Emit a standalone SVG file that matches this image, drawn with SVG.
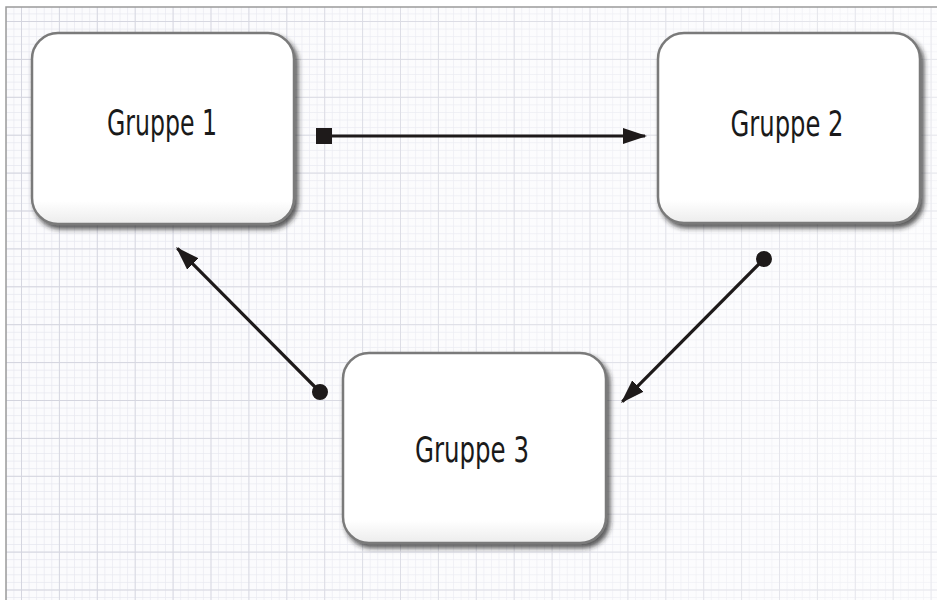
<svg xmlns="http://www.w3.org/2000/svg" width="937" height="600" viewBox="0 0 937 600">
<defs>
<style>
.node rect{fill:url(#boxfill);stroke:#7a7a7a;stroke-width:2.5;filter:url(#shadow)}
.node text{font-family:"Liberation Sans Narrow","DejaVu Sans Condensed","Liberation Sans",sans-serif;font-size:35px;fill:#1a1a1a;text-anchor:middle}
.conn line{stroke:#1e1a1a;stroke-width:3.2;fill:none}
</style>
<pattern id="minor" x="21" y="21" width="7.58" height="7.58" patternUnits="userSpaceOnUse">
<path d="M0,0 H7.58 M0,0 V7.58" stroke="#e6e7ef" stroke-width="1.3" fill="none"/>
</pattern>
<pattern id="major" x="21" y="21" width="37.9" height="37.9" patternUnits="userSpaceOnUse">
<path d="M0,0 H37.9 M0,0 V37.9" stroke="#d3d4de" stroke-width="1.8" fill="none"/>
</pattern>
<linearGradient id="fade" x1="0" y1="0" x2="1" y2="0">
<stop offset="0" stop-color="#fff" stop-opacity="0"/>
<stop offset="1" stop-color="#fff" stop-opacity="0.45"/>
</linearGradient>
<linearGradient id="boxfill" x1="0" y1="0" x2="0" y2="1">
<stop offset="0" stop-color="#ffffff"/>
<stop offset="0.88" stop-color="#ffffff"/>
<stop offset="1" stop-color="#ececec"/>
</linearGradient>
<filter id="shadow" x="-10%" y="-10%" width="125%" height="130%">
<feDropShadow dx="3" dy="4" stdDeviation="2.5" flood-color="#222" flood-opacity="0.75"/>
</filter>
<marker id="arrow" viewBox="0 0 24 16" markerWidth="24" markerHeight="16" refX="22" refY="8" orient="auto" markerUnits="userSpaceOnUse">
<path d="M0,0 L24,8 L0,16 z" fill="#1e1a1a"/>
</marker>
<marker id="square" viewBox="0 0 16 16" markerWidth="16" markerHeight="16" refX="8" refY="8" orient="auto" markerUnits="userSpaceOnUse">
<rect x="0" y="0" width="16" height="16" fill="#1e1a1a"/>
</marker>
<marker id="dot" viewBox="0 0 16 16" markerWidth="16" markerHeight="16" refX="8" refY="8" orient="auto" markerUnits="userSpaceOnUse">
<circle cx="8" cy="8" r="8" fill="#1e1a1a"/>
</marker>
</defs>
<rect x="0" y="0" width="937" height="600" fill="#ffffff"/>
<g id="background">
<rect x="6" y="7" width="931" height="593" fill="#fbfbfd"/>
<rect x="6" y="7" width="931" height="593" fill="url(#minor)"/>
<rect x="6" y="7" width="931" height="593" fill="url(#major)"/>
<rect x="6" y="7" width="931" height="593" fill="url(#fade)"/>
<path d="M6,600 V7 H937" stroke="#9a9a9a" stroke-width="1.5" fill="none"/>
</g>
<g id="connectors" class="conn">
<line x1="324" y1="136" x2="645" y2="136" marker-start="url(#square)" marker-end="url(#arrow)"/>
<line x1="764" y1="259" x2="622.4" y2="401.6" marker-start="url(#dot)" marker-end="url(#arrow)"/>
<line x1="320" y1="392" x2="177.4" y2="248.4" marker-start="url(#dot)" marker-end="url(#arrow)"/>
</g>
<g id="node-gruppe1" class="node">
<rect x="32" y="33" width="262" height="191" rx="26" ry="26"/>
<text x="162" y="135" textLength="110" lengthAdjust="spacingAndGlyphs">Gruppe 1</text>
</g>
<g id="node-gruppe2" class="node">
<rect x="658" y="33" width="262" height="190" rx="26" ry="26"/>
<text x="787" y="136" textLength="113" lengthAdjust="spacingAndGlyphs">Gruppe 2</text>
</g>
<g id="node-gruppe3" class="node">
<rect x="343" y="353" width="263" height="190" rx="26" ry="26"/>
<text x="472" y="462" textLength="114" lengthAdjust="spacingAndGlyphs">Gruppe 3</text>
</g>
</svg>
